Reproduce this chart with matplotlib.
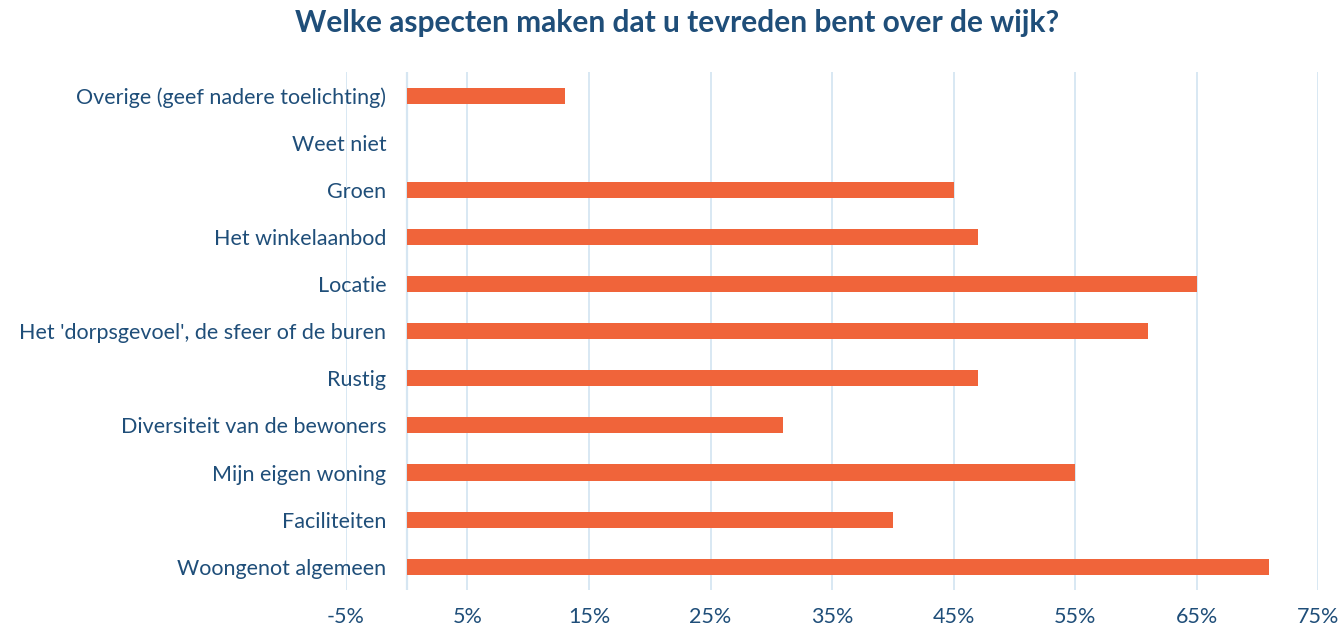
import matplotlib.pyplot as plt
import matplotlib as mpl

mpl.rcParams['font.family'] = ['Lato', 'DejaVu Sans']

# Data, top of chart first
categories = ['Overige (geef nadere toelichting)', 'Weet niet', 'Groen', 'Het winkelaanbod',
              'Locatie', "Het 'dorpsgevoel', de sfeer of de buren", 'Rustig',
              'Diversiteit van de bewoners', 'Mijn eigen woning', 'Faciliteiten',
              'Woongenot algemeen']
values = [13, 0, 45, 47, 65, 61, 47, 31, 55, 40, 71]
ticks = [-5, 5, 15, 25, 35, 45, 55, 65, 75]

text_col = '#1F4E79'
bar_col = '#F0643A'
grid_col = '#D6E6F2'

fig = plt.figure(figsize=(13.4, 6.32), dpi=100)
ax = fig.add_axes([0.2582, 0.066, 0.7254, 0.820])

pos = list(range(len(categories)))[::-1]
ax.barh(pos, values, height=0.34, color=bar_col, zorder=3)

ax.set_xlim(-5, 75)
ax.set_ylim(-0.5, len(categories) - 0.5)
ax.set_xticks(ticks)
ax.set_xticklabels(['{}%'.format(t) for t in ticks])
ax.set_yticks(pos)
ax.set_yticklabels(categories)

for t in ticks:
    ax.axvline(t, color=grid_col, lw=1.3, zorder=1)
ax.axvline(0, color=grid_col, lw=1.6, zorder=2)

for s in ax.spines.values():
    s.set_visible(False)
ax.tick_params(axis='both', length=0, labelsize=15.5, labelcolor=text_col)
ax.tick_params(axis='y', pad=-29)
ax.tick_params(axis='x', pad=12)

fig.suptitle('Welke aspecten maken dat u tevreden bent over de wijk?', x=0.505, y=0.985,
             fontsize=21.5, fontweight='bold', color=text_col)

fig.savefig('out.png', dpi=100)
